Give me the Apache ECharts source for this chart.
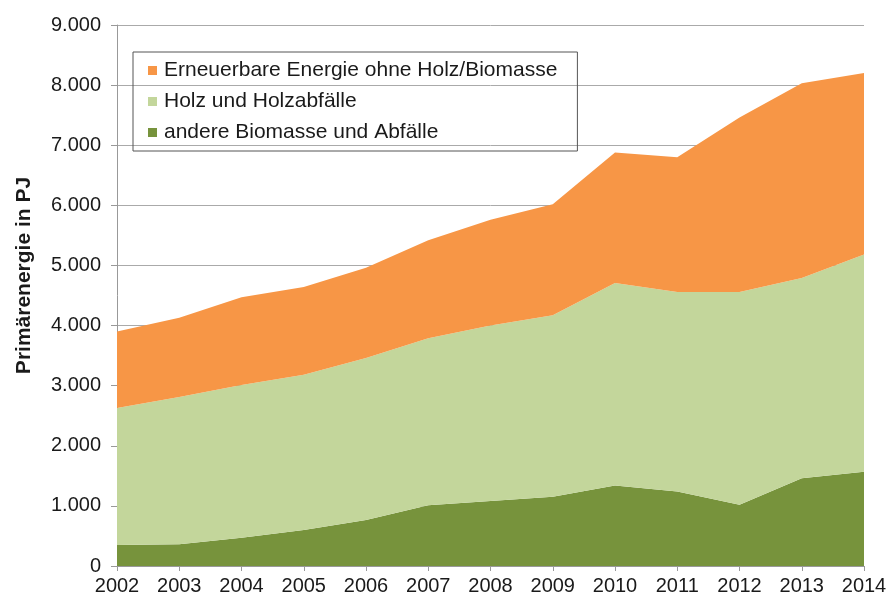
<!DOCTYPE html>
<html>
<head>
<meta charset="utf-8">
<script src="https://cdn.jsdelivr.net/npm/echarts@6/dist/echarts.min.js"></script>
<style>
  html, body { margin: 0; padding: 0; background: #fff; }
  #chart { width: 891px; height: 601px; }
</style>
</head>
<body>
<div id="chart"></div>
<script>
var years = ['2002', '2003', '2004', '2005', '2006', '2007', '2008', '2009', '2010', '2011', '2012', '2013', '2014'];

// PJ (stacked: andere at the bottom)
var andere = [350, 360, 470, 600, 765, 1010, 1080, 1150, 1340, 1240, 1020, 1460, 1570];
var holz = [2280, 2450, 2540, 2580, 2695, 2780, 2920, 3020, 3370, 3320, 3540, 3330, 3610];
var erneuerbar = [1270, 1320, 1460, 1460, 1500, 1630, 1760, 1850, 2170, 2240, 2900, 3240, 3020];

var names = ['Erneuerbare Energie ohne Holz/Biomasse', 'Holz und Holzabfälle', 'andere Biomasse und Abfälle'];

var chartDom = document.getElementById('chart');
var myChart = echarts.init(chartDom);
var option;

function areaSeries(name, data, color) {
  return {
    name: name,
    type: 'line',
    stack: 'total',
    data: data,
    showSymbol: false,
    symbol: 'rect',
    itemStyle: { color: color },
    lineStyle: { width: 0 },
    areaStyle: { color: color, opacity: 1 }
  };
}

option = {
  backgroundColor: '#fff',
  animation: false,
  textStyle: { fontFamily: 'Liberation Sans, Arial, sans-serif' },
  grid: { left: 117, right: 27, top: 25, bottom: 35 },
  legend: {
    data: names,
    orient: 'vertical',
    left: 133,
    top: 52,
    padding: [8, 20, 8, 15],
    itemGap: 10,
    itemWidth: 9,
    itemHeight: 9,
    icon: 'rect',
    borderColor: '#555',
    borderWidth: 1,
    textStyle: { fontSize: 21, color: '#1a1a1a', padding: [0, 0, 0, 2] }
  },
  xAxis: {
    type: 'category',
    boundaryGap: false,
    data: years,
    axisLine: { lineStyle: { color: '#999' } },
    axisTick: { show: true, length: 5, lineStyle: { color: '#999' } },
    axisLabel: { fontSize: 20, color: '#1a1a1a', margin: 10 }
  },
  yAxis: {
    type: 'value',
    min: 0,
    max: 9000,
    interval: 1000,
    name: 'Primärenergie in PJ',
    nameLocation: 'middle',
    nameGap: 82,
    nameTextStyle: { fontSize: 21, fontWeight: 'bold', color: '#1a1a1a', padding: [0, 0, 0, 40] },
    axisLine: { show: true, lineStyle: { color: '#999' } },
    axisTick: { show: true, length: 6, lineStyle: { color: '#999' } },
    axisLabel: {
      fontSize: 20,
      color: '#1a1a1a',
      margin: 16,
      formatter: function (v) {
        return v === 0 ? '0' : (v / 1000) + '.000';
      }
    },
    splitLine: { lineStyle: { color: '#aaa' } }
  },
  series: [
    areaSeries(names[2], andere, '#77933C'),
    areaSeries(names[1], holz, '#C3D69B'),
    areaSeries(names[0], erneuerbar, '#F79646')
  ]
};

myChart.setOption(option);
window.addEventListener('resize', myChart.resize);
</script>
</body>
</html>
